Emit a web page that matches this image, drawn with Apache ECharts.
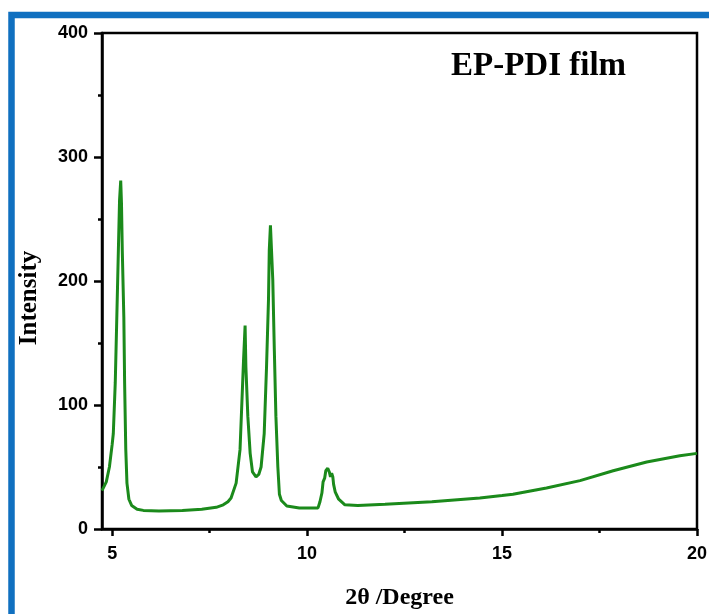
<!DOCTYPE html>
<html>
<head>
<meta charset="utf-8">
<script src="https://cdn.jsdelivr.net/npm/echarts@6/dist/echarts.min.js"></script>
<style>
html,body{margin:0;padding:0;background:#fff;}
#chart{width:709px;height:614px;}
</style>
</head>
<body>
<div id="chart"></div>
<script>
// 2θ (degree) positions
const twoTheta = [4.74,4.85,4.93,5.00,5.03,5.08,5.12,5.16,5.19,5.22,5.24,5.26,5.30,5.32,5.35,5.38,5.43,5.50,5.64,5.80,6.20,6.80,7.30,7.67,7.85,7.97,8.05,8.18,8.28,8.33,8.37,8.41,8.43,8.48,8.54,8.60,8.69,8.76,8.82,8.90,8.96,9.01,9.03,9.06,9.12,9.16,9.20,9.25,9.29,9.34,9.48,9.80,10.28,10.33,10.38,10.41,10.45,10.48,10.53,10.57,10.60,10.63,10.66,10.68,10.72,10.81,10.97,11.30,12.00,13.20,14.43,15.00,15.28,16.14,17.00,17.85,18.71,19.56,20.00];
// intensity values
const intensity = [31,38,50,68,77,118,171,225,265,281,262,225,171,118,64,37,24,19,16,15,14.5,15,16,17.5,19.5,22,25,37,64,104,136,164,131,91,61,46,42,44,50,77,131,185,225,245,201,144,91,50,28,23,18.5,17,17,22,29,38,41,47,49,46,42,45,42,36,30,24,19.5,19,20,22,25,27,28,33,39,47,54,59,61];
const xMajorTicks = [5,10,15,20];
const xMinorTicks = [7.5,12.5,17.5];
const titleText = 'EP-PDI film';
const xName = '2θ /Degree';
const yName = 'Intensity';

const data = twoTheta.map((x,i)=>[x,intensity[i]]);
const chart = echarts.init(document.getElementById('chart'), null, {renderer:'canvas'});
const axisFont = {fontFamily:'Liberation Sans', fontWeight:'bold', fontSize:18, color:'#000'};
chart.setOption({
  animation:false,
  backgroundColor:'#fff',
  title:{text:titleText,left:446,top:45,textStyle:{fontFamily:'Liberation Serif',fontWeight:'bold',fontSize:33,color:'#000'}},
  grid:{left:102,right:12,top:33,bottom:85,show:true,borderColor:'#000',borderWidth:2.5,containLabel:false,outerBoundsMode:'none'},
  xAxis:[{
    type:'value',min:4.74,max:20,
    name:xName,nameLocation:'middle',nameGap:57,
    nameTextStyle:{fontFamily:'Liberation Serif',fontWeight:'bold',fontSize:24,color:'#000'},
    axisLine:{show:true,lineStyle:{color:'#000',width:2.5}},
    axisTick:{show:true,inside:false,length:7,lineStyle:{color:'#000',width:2.5},customValues:xMajorTicks},
    axisLabel:{show:true,margin:16,customValues:xMajorTicks,...axisFont},
    splitLine:{show:false}
  },{
    type:'value',min:4.74,max:20,position:'bottom',
    axisLine:{show:false},
    axisTick:{show:true,inside:false,length:4,lineStyle:{color:'#000',width:2.5},customValues:xMinorTicks},
    axisLabel:{show:false},
    splitLine:{show:false}
  }],
  yAxis:{
    type:'value',min:0,max:400,interval:100,
    axisLine:{show:true,lineStyle:{color:'#000',width:2.5}},
    axisTick:{show:true,inside:false,length:8,lineStyle:{color:'#000',width:2.5}},
    minorTick:{show:true,splitNumber:2,length:4,lineStyle:{color:'#000',width:2.5}},
    axisLabel:{margin:14,...axisFont},
    splitLine:{show:false}
  },
  series:[{
    type:'line',xAxisIndex:0,data:data,showSymbol:false,symbol:'none',smooth:false,
    lineStyle:{color:'#1b8a1b',width:3},
    clip:true
  }],
  graphic:[{
    type:'text',silent:true,
    x:30,y:298,rotation:Math.PI/2,
    style:{text:yName,fontFamily:'Liberation Serif',fontWeight:'bold',fontSize:25,fill:'#000',align:'center',verticalAlign:'middle'}
  },{
    type:'rect',silent:true,z:100,
    shape:{x:11.5,y:15,width:800,height:700},
    style:{fill:'none',stroke:'#1070c0',lineWidth:6.5}
  }]
});
</script>
</body>
</html>
